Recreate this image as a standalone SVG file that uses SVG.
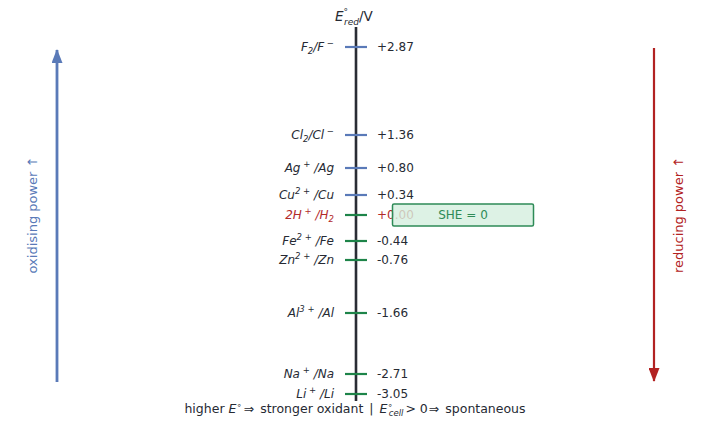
<svg xmlns="http://www.w3.org/2000/svg" width="711" height="425" viewBox="0 0 711 425">
<defs>
<style>
text{font-family:"DejaVu Sans","Liberation Sans",sans-serif;font-size:12px;fill:#262a33}
.lab{text-anchor:end;font-style:italic}
.val{text-anchor:start}
.red{fill:#b22a2a}
.sup{font-size:8.5px}
.tb{stroke:#5a7ab8;stroke-width:2.2}
.tg{stroke:#1e8449;stroke-width:2.2}
</style>
<marker id="ahb" viewBox="0 0 14 11" refX="13" refY="5.5" markerUnits="userSpaceOnUse" markerWidth="14" markerHeight="11" orient="auto"><path d="M0,0 L14,5.5 L0,11 z" fill="#5a7ab8"/></marker>
<marker id="ahr" viewBox="0 0 14 11" refX="13" refY="5.5" markerUnits="userSpaceOnUse" markerWidth="14" markerHeight="11" orient="auto"><path d="M0,0 L14,5.5 L0,11 z" fill="#b22222"/></marker>
</defs>
<rect width="711" height="425" fill="#ffffff"/>
<g id="connectors">
<line x1="356" y1="27" x2="356" y2="401" stroke="#2a2d35" stroke-width="2.6"/>
<line x1="57" y1="382" x2="57" y2="50" stroke="#5a7ab8" stroke-width="2.8" marker-end="url(#ahb)"/>
<line x1="654" y1="48" x2="654" y2="381" stroke="#b22222" stroke-width="2.2" marker-end="url(#ahr)"/>
</g>
<g id="title"><text x="335" y="21" style="font-style:italic;font-size:13.5px">E<tspan style="font-size:9px" dy="-6">°</tspan><tspan style="font-size:9px" dx="-4" dy="10">red</tspan><tspan dy="-4" style="font-style:normal">/V</tspan></text></g>
<g id="F2"><line class="tb" x1="345" y1="47" x2="367" y2="47"/><text class="lab" x="334" y="51">F<tspan class="sup" dy="3">2</tspan><tspan dy="-3">/F</tspan><tspan class="sup" dy="-5"> −</tspan></text><text class="val" x="377" y="51">+2.87</text></g>
<g id="Cl2"><line class="tb" x1="345" y1="135" x2="367" y2="135"/><text class="lab" x="334" y="139">Cl<tspan class="sup" dy="3">2</tspan><tspan dy="-3">/Cl</tspan><tspan class="sup" dy="-5"> −</tspan></text><text class="val" x="377" y="139">+1.36</text></g>
<g id="Ag"><line class="tb" x1="345" y1="168" x2="367" y2="168"/><text class="lab" x="334" y="172">Ag<tspan class="sup" dy="-5"> +</tspan><tspan dy="5"> /Ag</tspan></text><text class="val" x="377" y="172">+0.80</text></g>
<g id="Cu"><line class="tb" x1="345" y1="195" x2="367" y2="195"/><text class="lab" x="334" y="199">Cu<tspan class="sup" dy="-5">2 +</tspan><tspan dy="5"> /Cu</tspan></text><text class="val" x="377" y="199">+0.34</text></g>
<g id="H"><line class="tg" x1="345" y1="215" x2="367" y2="215"/><text class="lab red" x="334" y="219">2H<tspan class="sup" dy="-5"> +</tspan><tspan dy="5"> /H</tspan><tspan class="sup" dy="3">2</tspan></text><text class="val red" x="377" y="219">+0.00</text></g>
<g id="SHE"><rect x="392.5" y="204" width="141" height="22" rx="1.5" fill="#d4efdf" fill-opacity="0.8" stroke="#2e8b57" stroke-width="1.5"/><text x="463" y="219" text-anchor="middle" style="fill:#2e8b57">SHE  = 0</text></g>
<g id="Fe"><line class="tg" x1="345" y1="241" x2="367" y2="241"/><text class="lab" x="334" y="245">Fe<tspan class="sup" dy="-5">2 +</tspan><tspan dy="5"> /Fe</tspan></text><text class="val" x="377" y="245">-0.44</text></g>
<g id="Zn"><line class="tg" x1="345" y1="260" x2="367" y2="260"/><text class="lab" x="334" y="264">Zn<tspan class="sup" dy="-5">2 +</tspan><tspan dy="5"> /Zn</tspan></text><text class="val" x="377" y="264">-0.76</text></g>
<g id="Al"><line class="tg" x1="345" y1="313" x2="367" y2="313"/><text class="lab" x="334" y="317">Al<tspan class="sup" dy="-5">3 +</tspan><tspan dy="5"> /Al</tspan></text><text class="val" x="377" y="317">-1.66</text></g>
<g id="Na"><line class="tg" x1="345" y1="374" x2="367" y2="374"/><text class="lab" x="334" y="378">Na<tspan class="sup" dy="-5"> +</tspan><tspan dy="5"> /Na</tspan></text><text class="val" x="377" y="378">-2.71</text></g>
<g id="Li"><line class="tg" x1="345" y1="394" x2="367" y2="394"/><text class="lab" x="334" y="398">Li<tspan class="sup" dy="-5"> +</tspan><tspan dy="5"> /Li</tspan></text><text class="val" x="377" y="398">-3.05</text></g>
<g id="footer"><text x="355" y="412.5" text-anchor="middle" style="font-size:12.5px">higher <tspan style="font-style:italic">E</tspan><tspan class="sup" dy="-5">∘</tspan><tspan dy="5" dx="2">⇒ </tspan><tspan dx="2">stronger oxidant</tspan><tspan dx="6">|</tspan><tspan dx="6" style="font-style:italic">E</tspan><tspan class="sup" dy="-5">∘</tspan><tspan class="sup" dx="-4" dy="8" style="font-style:italic">cell</tspan><tspan dy="-3" dx="2">&gt; 0</tspan><tspan dx="1">⇒ </tspan><tspan dx="2">spontaneous</tspan></text></g>
<g id="oxlabel"><text transform="translate(37,215) rotate(-90)" text-anchor="middle" style="fill:#5a7ab8;font-size:13px">oxidising power  ↑</text></g>
<g id="redlabel"><text transform="translate(683,215) rotate(-90)" text-anchor="middle" style="fill:#b22222;font-size:13px">reducing power  ↑</text></g>
</svg>
